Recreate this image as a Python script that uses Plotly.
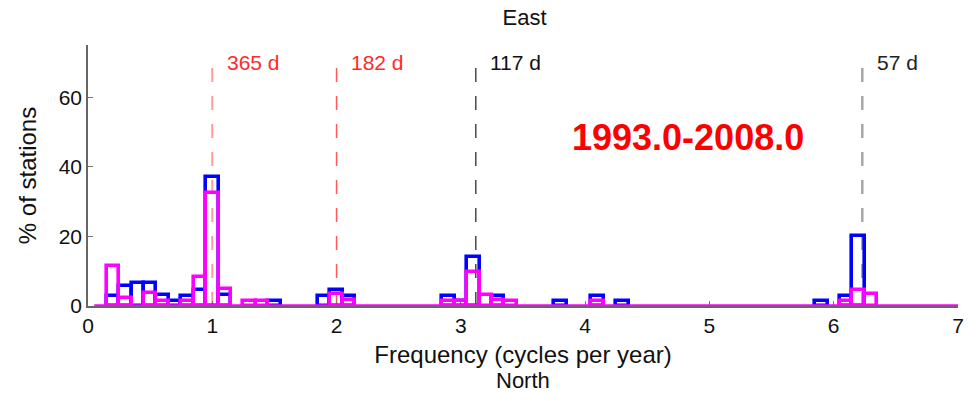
import plotly.graph_objects as go

# Percentage of stations whose dominant frequency falls in each 0.1 cpy bin
freq_blue = [0.2, 0.3, 0.4, 0.5, 0.6, 0.7, 0.8, 0.9, 1.0, 1.1, 1.5,
             1.9, 2.0, 2.1, 2.9, 3.0, 3.1, 3.3, 3.8, 4.1, 4.3,
             5.9, 6.1, 6.2]
pct_blue = [3.0, 5.8, 6.6, 6.6, 3.2, 1.3, 3.0, 4.6, 37.0, 3.2, 1.4,
            3.0, 4.6, 3.0, 3.0, 1.4, 14.0, 3.0, 1.4, 3.0, 1.4,
            1.4, 2.8, 20.2]

freq_mag = [0.2, 0.3, 0.5, 0.6, 0.8, 0.9, 1.0, 1.1, 1.3, 1.4,
            2.0, 2.1, 2.9, 3.0, 3.1, 3.2, 3.3, 3.4, 4.1,
            6.1, 6.2, 6.3]
pct_mag = [11.5, 2.3, 3.6, 1.5, 1.5, 8.2, 32.5, 5.0, 1.4, 1.4,
           3.4, 1.6, 1.5, 1.4, 9.7, 3.3, 1.6, 1.4, 1.5,
           1.5, 4.6, 3.4]

bin_width = 0.1
freq_span = [0.05, 7.0]

# Reference periods
period_labels = ["365 d", "182 d", "117 d", "57 d"]
period_freq = [1.0, 2.0, 3.12, 6.23]
period_line_colors = ["#ff9c9c", "#ff5a5a", "#4a4a4a", "#a8a8a8"]
period_line_widths = [2, 1.5, 1.5, 2.5]
period_text_colors = ["#ff2a2a", "#ff2a2a", "#111111", "#222222"]
period_top = 72

x_ticks = [0, 1, 2, 3, 4, 5, 6, 7]
y_ticks = [0, 20, 40, 60]

FONT = "Liberation Sans, Arial, Helvetica, sans-serif"

fig = go.Figure()

fig.add_trace(go.Bar(
    x=freq_blue, y=pct_blue, width=bin_width,
    marker=dict(color="rgba(0,0,0,0)", line=dict(color="#0000ff", width=3.6)),
    hoverinfo="x+y",
))
fig.add_trace(go.Bar(
    x=freq_mag, y=pct_mag, width=bin_width,
    marker=dict(color="rgba(0,0,0,0)", line=dict(color="#ff00ff", width=3.6)),
    hoverinfo="x+y",
))
# empty bins sit on the baseline
fig.add_trace(go.Scatter(
    x=freq_span, y=[0, 0], mode="lines",
    line=dict(color="#ff00ff", width=3.6), cliponaxis=False, hoverinfo="skip",
))

shapes = []
annotations = []
for lab, f, lc, lw, tc in zip(period_labels, period_freq, period_line_colors,
                              period_line_widths, period_text_colors):
    shapes.append(dict(type="line", xref="x", yref="y", x0=f, x1=f,
                       y0=0, y1=period_top, layer="below",
                       line=dict(color=lc, width=lw, dash="14px,14px")))
    annotations.append(dict(x=f + 0.1, y=70, xref="x", yref="y", text=lab,
                            showarrow=False, xanchor="left", yanchor="middle",
                            font=dict(family=FONT, size=21, color=tc)))

annotations.append(dict(x=4.83, y=48.5, xref="x", yref="y", text="<b>1993.0-2008.0</b>",
                        showarrow=False, xanchor="center", yanchor="middle",
                        font=dict(family=FONT, size=36, color="#ff0000")))
annotations.append(dict(x=0.5, y=-0.287, xref="paper", yref="paper", text="North",
                        showarrow=False, xanchor="center", yanchor="middle",
                        font=dict(family=FONT, size=22, color="#111111")))

fig.update_layout(
    width=976, height=401,
    margin=dict(l=88, r=13, t=45, b=95),
    paper_bgcolor="white", plot_bgcolor="white",
    barmode="overlay", bargap=0, showlegend=False,
    font=dict(family=FONT, size=21, color="#111111"),
    title=dict(text="East", x=0.5375, xanchor="center", y=1 - 17 / 401,
               yanchor="middle", yref="container",
               font=dict(family=FONT, size=22, color="#111111")),
    shapes=shapes, annotations=annotations,
)

fig.update_xaxes(
    range=[0, 7], tickvals=x_ticks, ticks="inside", ticklen=5,
    tickcolor="#777777", showline=True, linecolor="#666666", linewidth=1.5,
    showgrid=False, zeroline=False, layer="below traces",
    tickfont=dict(family=FONT, size=21, color="#111111"),
    title=dict(text="Frequency (cycles per year)", standoff=10,
               font=dict(family=FONT, size=24, color="#111111")),
)
fig.update_yaxes(
    range=[0, 75], tickvals=y_ticks, ticks="inside", ticklen=5,
    tickcolor="#777777", showline=True, linecolor="#666666", linewidth=1.5,
    showgrid=False, zeroline=False, layer="below traces",
    tickfont=dict(family=FONT, size=21, color="#111111"),
    title=dict(text="% of stations", standoff=15,
               font=dict(family=FONT, size=24, color="#111111")),
)

fig.write_html("out.html")
